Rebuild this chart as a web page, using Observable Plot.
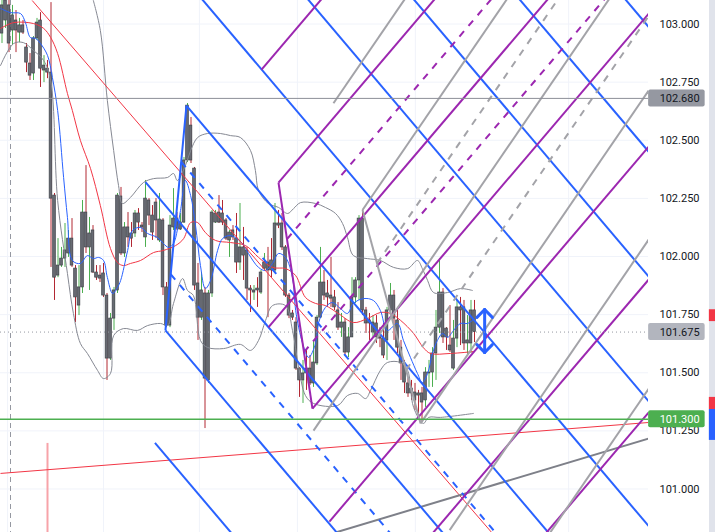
<!DOCTYPE html>
<html><head><meta charset="utf-8">
<script src="https://cdn.jsdelivr.net/npm/d3@7"></script>
<script src="https://cdn.jsdelivr.net/npm/@observablehq/plot@0.6"></script>
<style>
html,body{margin:0;padding:0;}
body{width:715px;height:532px;overflow:hidden;background:linear-gradient(to right,#ffffff 709px,#e0e3eb 709px);}
</style></head>
<body><div id="chart"></div>
<script>
// ---- candle data (bar index = position in arrays) ----
const opens = [102.959,103.015,103.080,102.972,103.015,102.963,102.994,102.899,102.830,102.787,102.938,103.015,102.800,102.808,102.791,
102.262,101.918,101.961,101.991,102.013,102.077,101.948,101.789,101.867,102.189,102.039,102.112,101.931,101.918,101.927,101.832,101.561,101.733,101.854,
102.258,102.013,102.125,102.099,102.099,102.185,102.133,102.082,102.241,102.176,102.232,102.069,102.155,101.867,101.703,102.125,102.163,102.116,102.146,102.413,102.563,102.378,101.884,101.737,101.841,101.467,101.841,102.146,102.189,102.185,102.155,102.069,
102.112,102.077,101.974,102.039,102.026,101.862,101.845,101.862,101.845,101.948,101.974,101.983,101.940,102.142,102.142,102.039,101.832,101.755,101.716,101.518,101.467,101.518,101.518,101.454,101.540,101.737,101.888,101.841,101.832,101.824,101.768,101.694,101.716,
101.587,101.652,101.824,101.897,102.163,101.768,101.725,101.673,101.712,101.652,101.647,101.639,101.768,101.832,101.725,101.608,101.540,101.454,101.432,101.415,101.411,101.411,101.381,101.497,101.501,101.583,101.694,101.845,101.690,101.617,101.518,101.647,101.781,101.781,101.626,101.626,101.768];
const highs = [103.144,103.144,103.123,103.080,103.058,103.024,103.015,102.916,102.873,102.946,103.024,103.049,102.864,102.843,103.092,
102.271,102.077,102.039,102.142,102.112,102.163,101.961,101.961,102.241,102.391,102.168,102.133,101.961,101.961,101.970,101.841,101.755,101.867,102.271,
102.297,102.146,102.189,102.146,102.198,102.206,102.146,102.327,102.249,102.219,102.249,102.271,102.163,101.888,102.176,102.292,102.189,102.185,102.426,102.658,102.598,102.383,101.970,101.931,101.867,101.854,102.198,102.198,102.262,102.241,102.163,102.112,
102.133,102.185,102.228,102.125,102.039,101.875,101.875,101.909,101.940,102.013,102.039,102.077,102.228,102.198,102.185,102.047,101.841,101.768,101.737,101.522,101.553,101.596,101.574,101.639,101.746,102.039,101.940,101.897,101.996,101.854,101.802,101.755,101.733,
101.694,101.909,101.909,102.176,102.198,101.781,101.755,101.746,101.746,101.694,101.712,101.781,101.884,101.854,101.781,101.639,101.553,101.475,101.467,101.454,101.424,101.437,101.522,101.553,101.608,101.768,101.991,101.862,101.694,101.789,101.725,101.811,101.824,101.811,101.746,101.811,101.811];
const lows = [102.916,102.981,102.877,102.907,102.877,102.920,102.955,102.791,102.757,102.757,102.929,102.727,102.748,102.765,101.953,
101.811,101.909,101.953,101.953,101.996,101.953,101.716,101.746,101.841,102.013,101.854,101.927,101.897,101.888,101.824,101.467,101.553,101.682,101.841,
102.004,101.996,102.039,102.039,102.082,102.112,102.103,102.039,102.133,102.069,102.077,102.060,101.832,101.694,101.694,102.112,102.112,102.112,102.142,102.404,102.400,101.854,101.639,101.725,101.260,101.454,101.824,102.142,102.142,102.133,102.069,101.996,
102.069,101.927,101.940,101.897,101.811,101.759,101.811,101.781,101.837,101.940,101.737,101.909,101.931,102.120,102.026,101.824,101.733,101.725,101.510,101.394,101.368,101.424,101.445,101.437,101.531,101.733,101.811,101.781,101.781,101.768,101.682,101.652,101.574,
101.565,101.652,101.798,101.811,101.746,101.669,101.639,101.652,101.626,101.608,101.561,101.553,101.755,101.639,101.583,101.467,101.411,101.394,101.381,101.338,101.325,101.286,101.351,101.437,101.437,101.467,101.669,101.626,101.596,101.587,101.510,101.608,101.617,101.596,101.574,101.583,101.630];
const closes = [103.080,103.101,102.916,103.037,102.972,102.994,102.963,102.834,102.778,102.938,103.006,102.808,102.821,102.791,102.249,
101.909,101.961,101.991,102.026,102.077,101.961,101.824,101.867,102.189,102.039,102.099,101.931,101.909,101.905,101.832,101.561,101.733,101.854,102.262,
102.013,102.125,102.082,102.077,102.185,102.146,102.125,102.249,102.176,102.103,102.155,102.159,101.867,101.703,102.133,102.163,102.120,102.146,102.413,102.649,102.413,101.875,101.737,101.854,101.475,101.841,102.189,102.185,102.146,102.146,102.077,102.103,
102.082,101.974,102.039,102.004,101.862,101.854,101.854,101.854,101.931,101.974,101.940,101.940,102.142,102.133,102.039,101.832,101.746,101.737,101.518,101.467,101.497,101.497,101.454,101.544,101.737,101.888,101.832,101.824,101.819,101.781,101.694,101.716,101.587,
101.652,101.824,101.897,102.163,101.768,101.712,101.712,101.716,101.652,101.647,101.574,101.768,101.832,101.733,101.608,101.540,101.458,101.411,101.411,101.381,101.402,101.372,101.501,101.501,101.583,101.694,101.845,101.652,101.652,101.596,101.647,101.781,101.768,101.626,101.639,101.768,101.675];

// ---- indicator readings: [bar index, price] ----
const blueMA = [[-0.4,103.067],[2.4,103.049],[5.3,103.045],[6.7,103.006],[8.1,102.942],[9.6,102.938],[11.0,102.916],[13.0,102.865],[14.4,102.770],[15.9,102.628],[17.6,102.340],[18.7,102.168],[20.1,101.983],[22.4,101.970],[24.4,102.004],[26.1,101.991],[27.6,101.996],[29.0,101.983],[30.1,101.910],[31.6,101.841],[33.0,101.867],[33.9,101.897],[35.9,102.026],[37.3,102.112],[39.6,102.125],[41.6,102.099],[44.4,102.082],[46.1,102.056],[47.6,102.039],[49.0,102.056],[51.0,102.198],[52.4,102.327],[53.9,102.262],[55.3,102.133],[56.7,101.961],[58.1,101.862],[59.6,101.897],[61.6,102.026],[63.0,102.077],[65.3,102.090],[68.7,102.056],[70.4,102.013],[73.3,101.953],[75.3,101.940],[77.3,101.970],[79.0,102.013],[81.0,101.996],[83.0,101.910],[83.9,101.768],[85.9,101.626],[87.6,101.566],[89.6,101.626],[90.4,101.712],[92.4,101.781],[94.4,101.802],[96.7,101.776],[98.7,101.755],[100.4,101.798],[103.3,101.819],[106.1,101.811],[108.1,101.768],[110.1,101.682],[113.0,101.712],[114.7,101.639],[116.7,101.566],[118.7,101.497],[120.1,101.458],[121.6,101.497],[123.0,101.583],[124.4,101.639],[125.9,101.669],[127.3,101.652],[129.0,101.682],[131.0,101.712],[133.0,101.712],[134.4,101.725]];
const redMA = [[-0.4,102.981],[3.3,103.006],[9.0,103.002],[11.9,102.981],[13.9,102.942],[15.9,102.873],[18.7,102.701],[20.1,102.628],[22.4,102.499],[25.3,102.378],[28.1,102.219],[31.0,102.034],[33.0,101.974],[34.7,101.961],[36.7,101.970],[39.6,101.983],[43.3,102.017],[46.1,102.026],[49.6,102.047],[51.9,102.077],[53.9,102.146],[55.9,102.146],[58.1,102.103],[61.0,102.069],[65.3,102.060],[69.6,102.047],[73.3,101.996],[77.3,101.953],[81.0,101.948],[83.9,101.918],[86.7,101.824],[89.6,101.798],[92.4,101.789],[96.1,101.755],[100.4,101.716],[104.4,101.733],[108.1,101.759],[111.0,101.755],[113.9,101.725],[117.6,101.669],[120.4,101.608],[122.4,101.583],[128.1,101.583],[134.7,101.591]];
const bandUpper = [[26.1,103.101],[28.1,102.972],[30.1,102.671],[31.9,102.456],[33.3,102.305],[34.4,102.228],[36.7,102.254],[40.4,102.318],[43.3,102.335],[47.3,102.340],[49.0,102.357],[50.1,102.327],[52.4,102.391],[53.9,102.456],[55.9,102.512],[58.7,102.529],[62.4,102.529],[65.3,102.520],[68.1,102.512],[71.0,102.456],[72.4,102.370],[73.3,102.284],[76.1,102.228],[79.0,102.211],[81.6,102.185],[83.3,102.206],[85.3,102.232],[89.6,102.228],[92.4,102.211],[95.3,102.185],[97.3,102.142],[98.7,102.082],[100.4,102.004],[104.4,101.991],[108.1,101.983],[111.9,101.953],[115.9,101.948],[118.7,101.983],[120.1,101.948],[121.6,101.897],[123.3,101.845],[127.3,101.845],[131.0,101.862],[134.4,101.854]];
const bandLower = [[-0.4,102.822],[3.3,102.916],[6.1,102.920],[9.0,102.886],[11.9,102.843],[13.9,102.757],[15.9,102.241],[18.7,101.927],[20.4,101.755],[22.4,101.626],[24.4,101.583],[27.3,101.510],[29.0,101.475],[31.0,101.497],[31.9,101.660],[34.7,101.690],[38.7,101.682],[41.6,101.703],[45.3,101.712],[47.3,101.703],[49.0,101.798],[51.6,101.905],[53.0,101.854],[54.7,101.832],[56.7,101.639],[58.7,101.609],[63.3,101.604],[68.1,101.622],[71.0,101.596],[73.3,101.639],[75.3,101.725],[77.3,101.789],[81.0,101.789],[83.0,101.682],[84.7,101.531],[86.7,101.402],[89.0,101.368],[95.9,101.359],[98.7,101.402],[101.6,101.411],[103.9,101.389],[105.3,101.424],[108.1,101.510],[110.1,101.544],[113.9,101.544],[115.9,101.510],[117.6,101.351],[120.4,101.282],[121.9,101.308],[125.3,101.308],[134.7,101.325]];

// ---- drawings: anchor points [bar index, price] ----
const bluePitchfork = [[41.0,102.320],[46.7,101.682],[52.7,102.649]];
const purplePitchfork = [[76.1,101.695],[79.0,102.318],[88.7,101.346]];
const grayPitchfork = [[89.0,101.251],[103.0,102.200],[119.6,101.282]];
const redTrend = [[8.63,103.101],[139.9,100.813]];
const redRising = [[-0.43,101.067],[184.7,101.286]];
const grayTrend = [[95.3,100.813],[184.7,101.217]];
const redVertical = [13.0, 100.80, 101.196];
const sessionBreak = [2.43];
const arrowMark = [137.9, 101.772, 101.587];
const gridTimes = [1.6, 29.0, 56.4, 84.4, 118.1, 161.9];
const yTicks = [101.0,101.25,101.5,101.75,102.0,102.25,102.5,102.75,103.0];
const priceLabels = [
  {p:102.680, text:"102.680", kind:"hline"},
  {p:101.675, text:"101.675", kind:"last"},
  {p:101.300, text:"101.300", kind:"alert"}
];
const scaleMarks = [[101.771,101.720,"red"],[101.394,101.342,"red"],[101.342,101.209,"blue"]];

// ---- build ----
const candles = opens.map((o,i)=>({i, o, h:highs[i], l:lows[i], c:closes[i]}));
const isUp = d => d.c > d.o;

function forkSegments(anchor, levels, dashed) {
  const [A,B,C] = anchor.map(([i,p])=>({i,p}));
  const mid = {i:(B.i+C.i)/2, p:(B.p+C.p)/2};
  const di = mid.i - A.i, dp = mid.p - A.p;
  const T = 300 / di;
  const segs = [];
  segs.push({x1:A.i, y1:A.p, x2:A.i+di*T, y2:A.p+dp*T, dash:false});
  for (const k of levels) {
    const s = {i: mid.i + k*(C.i-mid.i), p: mid.p + k*(C.p-mid.p)};
    segs.push({x1:s.i, y1:s.p, x2:s.i+di*T, y2:s.p+dp*T, dash:false});
  }
  for (const k of dashed) {
    const s = {i: mid.i + k*(C.i-mid.i), p: mid.p + k*(C.p-mid.p)};
    segs.push({x1:s.i, y1:s.p, x2:s.i+di*T, y2:s.p+dp*T, dash:true});
  }
  segs.push({x1:B.i, y1:B.p, x2:C.i, y2:C.p, dash:false});
  return segs;
}
const solidLevels = [-8,-7,-6,-5,-4,-3,-2,-1,1,2,3,4,5,6,7,8];
const dashLevels = [-0.5,0.5];
const BLUE = "#2962ff", PURPLE = "#9c27b0", GRAY = "#a3a3a8";

function forkMarks(anchor, color) {
  const segs = forkSegments(anchor, solidLevels, dashLevels);
  return [
    Plot.link(segs.filter(d=>!d.dash), {x1:"x1", y1:"y1", x2:"x2", y2:"y2", stroke:color, strokeWidth:2, clip:true}),
    Plot.link(segs.filter(d=>d.dash), {x1:"x1", y1:"y1", x2:"x2", y2:"y2", stroke:color, strokeWidth:2, strokeDasharray:"7,7", clip:true})
  ];
}

const [ax, aTop, aBot] = arrowMark;
const armI = 2.2, armP = 0.034;
const arrowSegs = [
  {x1:ax, y1:aTop, x2:ax, y2:aBot},
  {x1:ax-armI, y1:aTop-armP, x2:ax, y2:aTop},
  {x1:ax+armI, y1:aTop-armP, x2:ax, y2:aTop},
  {x1:ax-armI, y1:aBot+armP, x2:ax, y2:aBot},
  {x1:ax+armI, y1:aBot+armP, x2:ax, y2:aBot}
];

const labelFill = {hline:"#9598a1", last:"#b2b5be", alert:"#4caf50"};
const labelText = {hline:"#131722", last:"#131722", alert:"#ffffff"};
const LX1 = 184.75, LX2 = 200.9, LTX = 187.9, LH = 0.0366;

const chart = Plot.plot({
  width: 715, height: 532,
  marginLeft: 0, marginRight: 67, marginTop: 0, marginBottom: 0,
  style: {background:"transparent", fontFamily:"Roboto, 'Liberation Sans', sans-serif", fontSize:"11px", color:"#131722", overflow:"visible"},
  x: {domain:[-0.4286, 184.714], axis:null},
  y: {domain:[100.8129, 103.1011], axis:null},
  marks: [
    Plot.ruleY(yTicks, {stroke:"#f0f3fa", strokeWidth:1}),
    Plot.ruleX(gridTimes, {stroke:"#f0f3fa", strokeWidth:1}),
    Plot.ruleX(sessionBreak, {stroke:"#9598a1", strokeWidth:1, strokeDasharray:"5,4"}),
    Plot.ruleX([redVertical], {x:d=>d[0], y1:d=>d[1], y2:d=>d[2], stroke:"#f7a3a9", strokeWidth:2, clip:true}),
    // candles
    Plot.ruleX(candles, {x:"i", y1:"l", y2:"h", stroke:d=>isUp(d)?"#4caf50":"#b22833", strokeWidth:1, clip:true}),
    Plot.rect(candles, {x1:d=>d.i-0.38, x2:d=>d.i+0.38, y1:"o", y2:"c", fill:"#686b73", stroke:"#3f4249", strokeWidth:0.7, clip:true}),
    // indicators
    Plot.line(bandUpper, {x:d=>d[0], y:d=>d[1], stroke:"#868993", strokeWidth:1, curve:"catmull-rom", clip:true}),
    Plot.line(bandLower, {x:d=>d[0], y:d=>d[1], stroke:"#868993", strokeWidth:1, curve:"catmull-rom", clip:true}),
    Plot.line(redMA, {x:d=>d[0], y:d=>d[1], stroke:"#f23645", strokeWidth:1, curve:"catmull-rom", clip:true}),
    Plot.line(blueMA, {x:d=>d[0], y:d=>d[1], stroke:"#2962ff", strokeWidth:1, curve:"catmull-rom", clip:true}),
    // drawings
    Plot.link([redTrend, redRising], {x1:d=>d[0][0], y1:d=>d[0][1], x2:d=>d[1][0], y2:d=>d[1][1], stroke:"#f23645", strokeWidth:1, clip:true}),
    Plot.link([grayTrend], {x1:d=>d[0][0], y1:d=>d[0][1], x2:d=>d[1][0], y2:d=>d[1][1], stroke:"#7e8089", strokeWidth:2, clip:true}),
    ...forkMarks(bluePitchfork, BLUE),
    ...forkMarks(purplePitchfork, PURPLE),
    ...forkMarks(grayPitchfork, GRAY),
    Plot.link(arrowSegs, {x1:"x1", y1:"y1", x2:"x2", y2:"y2", stroke:BLUE, strokeWidth:3, strokeLinecap:"round", clip:true}),
    // horizontal levels
    Plot.ruleY([priceLabels[0].p], {stroke:"#8c8f98", strokeWidth:1}),
    Plot.ruleY([priceLabels[1].p], {stroke:"#9598a1", strokeWidth:1, strokeDasharray:"1,3"}),
    Plot.ruleY([priceLabels[2].p], {stroke:"#4caf50", strokeWidth:1.3}),
    // price axis
    Plot.axisY(yTicks, {anchor:"right", tickSize:0, tickPadding:11, tickFormat:d3.format(".3f"), fill:"#131722", fontSize:11}),
    Plot.rect(priceLabels, {x1:LX1, x2:LX2, y1:d=>d.p-LH, y2:d=>d.p+LH, fill:d=>labelFill[d.kind], rx:2}),
    Plot.text(priceLabels, {x:LTX, y:"p", text:"text", textAnchor:"start", fill:d=>labelText[d.kind], fontSize:11}),
    Plot.rect(scaleMarks, {x1:202.1, x2:204, y1:d=>d[0], y2:d=>d[1], fill:d=>d[2]==="red"?"#f23645":"#2962ff"})
  ]
});
document.getElementById("chart").appendChild(chart);
</script>
</body></html>
